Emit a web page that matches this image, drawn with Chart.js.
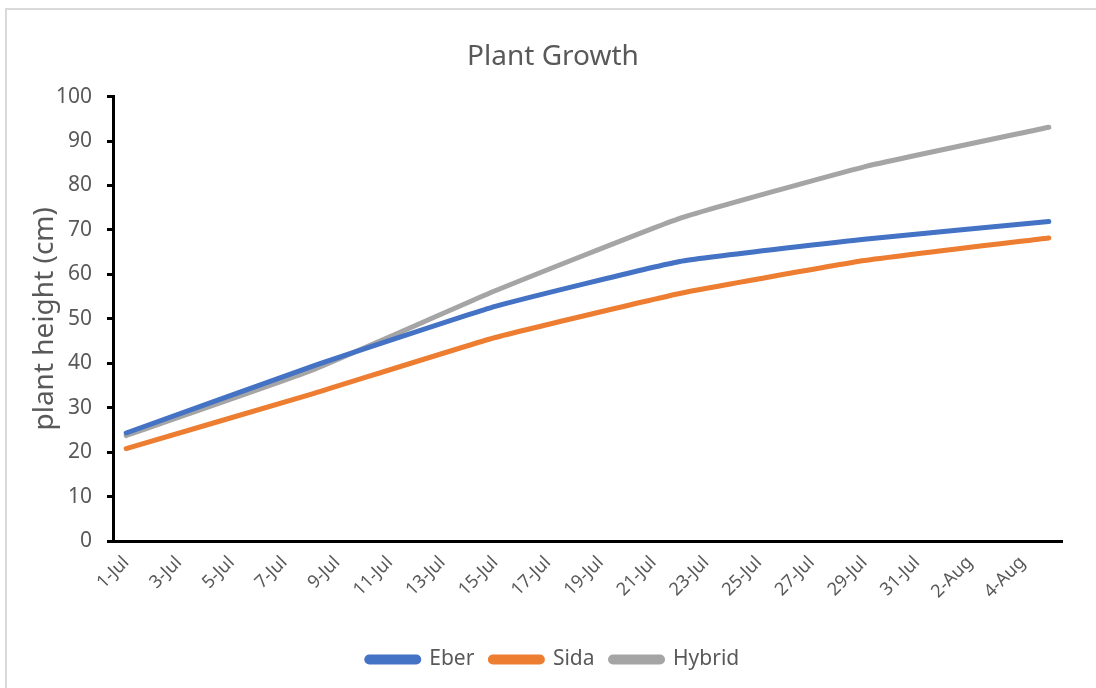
<!DOCTYPE html>
<html>
<head>
<meta charset="utf-8">
<script src="https://cdn.jsdelivr.net/npm/chart.js@4.4.1/dist/chart.umd.min.js"></script>
<style>
  html, body { margin: 0; padding: 0; background: #ffffff; }
  #wrap { position: relative; width: 1096px; height: 688px; overflow: hidden; background: #ffffff; }
  #frame { position: absolute; left: 5px; top: 8px; width: 1200px; height: 800px; border: 2px solid #d9d9d9; box-sizing: border-box; }
  #c { position: absolute; left: 0; top: 0; }
</style>
</head>
<body>
<div id="wrap">
  <div id="frame"></div>
  <canvas id="c" width="1096" height="688"></canvas>
</div>
<script>
// Category axis: every day from 1-Jul to 5-Aug
const days = [
  '1-Jul','2-Jul','3-Jul','4-Jul','5-Jul','6-Jul','7-Jul','8-Jul','9-Jul','10-Jul',
  '11-Jul','12-Jul','13-Jul','14-Jul','15-Jul','16-Jul','17-Jul','18-Jul','19-Jul','20-Jul',
  '21-Jul','22-Jul','23-Jul','24-Jul','25-Jul','26-Jul','27-Jul','28-Jul','29-Jul','30-Jul',
  '31-Jul','1-Aug','2-Aug','3-Aug','4-Aug','5-Aug'
];
// Measurement dates (weekly)
const measureDays = ['1-Jul','8-Jul','15-Jul','22-Jul','29-Jul','5-Aug'];
// Series values (plant height, cm)
const eber   = [24.3, 39.2, 52.8, 62.9, 67.9, 71.9];
const sida   = [20.8, 33.0, 45.8, 55.7, 63.1, 68.2];
const hybrid = [23.7, 38.3, 56.3, 72.6, 84.2, 93.1];

const seriesNames = ['Eber', 'Sida', 'Hybrid'];
const seriesColors = ['#4472C4', '#ED7D31', '#A5A5A5'];
const yTicksMin = 0, yTicksMax = 100, yTickStep = 10;

const txt = '#595959';
const fam = '"Noto Sans", "Open Sans", sans-serif';
const seriesData = [eber, sida, hybrid];

const datasets = seriesNames.map((name, s) => ({
  label: name,
  data: measureDays.map((d, i) => ({ x: d, y: seriesData[s][i] })),
  borderColor: seriesColors[s],
  backgroundColor: seriesColors[s],
  borderWidth: 5,
  borderCapStyle: 'round',
  borderJoinStyle: 'round',
  pointRadius: 0,
  pointHoverRadius: 0,
  tension: 0.12,
  fill: false
}));

new Chart(document.getElementById('c'), {
  type: 'line',
  data: { labels: days, datasets: datasets },
  options: {
    responsive: false,
    animation: false,
    layout: { padding: { left: 24, right: 14, top: 40, bottom: 8 } },
    plugins: {
      title: {
        display: true,
        text: 'Plant Growth',
        color: txt,
        font: { family: fam, size: 28, weight: 'normal' },
        padding: { top: 0, bottom: 23 }
      },
      legend: {
        position: 'bottom',
        labels: {
          color: txt,
          font: { family: fam, size: 21 },
          boxWidth: 52,
          boxHeight: 5,
          useBorderRadius: true,
          borderRadius: 2.5,
          padding: 16
        }
      },
      tooltip: { enabled: false }
    },
    scales: {
      x: {
        type: 'category',
        offset: true,
        grid: { display: false, drawTicks: false },
        border: { display: true, color: '#000000', width: 3 },
        afterFit: (scale) => { scale.height = 92; },
        ticks: {
          autoSkip: false,
          maxRotation: 45,
          minRotation: 45,
          padding: 11,
          color: txt,
          font: { family: fam, size: 18 },
          callback: function (val, idx) { return idx % 2 === 0 ? this.getLabelForValue(val) : ''; }
        }
      },
      y: {
        min: yTicksMin,
        max: yTicksMax,
        afterFit: (scale) => { scale.width = 89; },
        grid: { display: true, drawOnChartArea: false, drawTicks: true, tickLength: 6, color: '#000000', lineWidth: 3 },
        border: { display: true, color: '#000000', width: 3 },
        ticks: {
          stepSize: yTickStep,
          padding: 15,
          color: txt,
          font: { family: fam, size: 21 }
        },
        title: {
          display: true,
          text: 'plant height (cm)',
          color: txt,
          font: { family: fam, size: 28 }
        }
      },
      spacer: {
        type: 'linear',
        position: 'right',
        display: true,
        afterFit: (scale) => { scale.width = 20; },
        grid: { display: false, drawTicks: false },
        border: { display: false },
        ticks: { display: false }
      }
    }
  }
});
</script>
</body>
</html>
